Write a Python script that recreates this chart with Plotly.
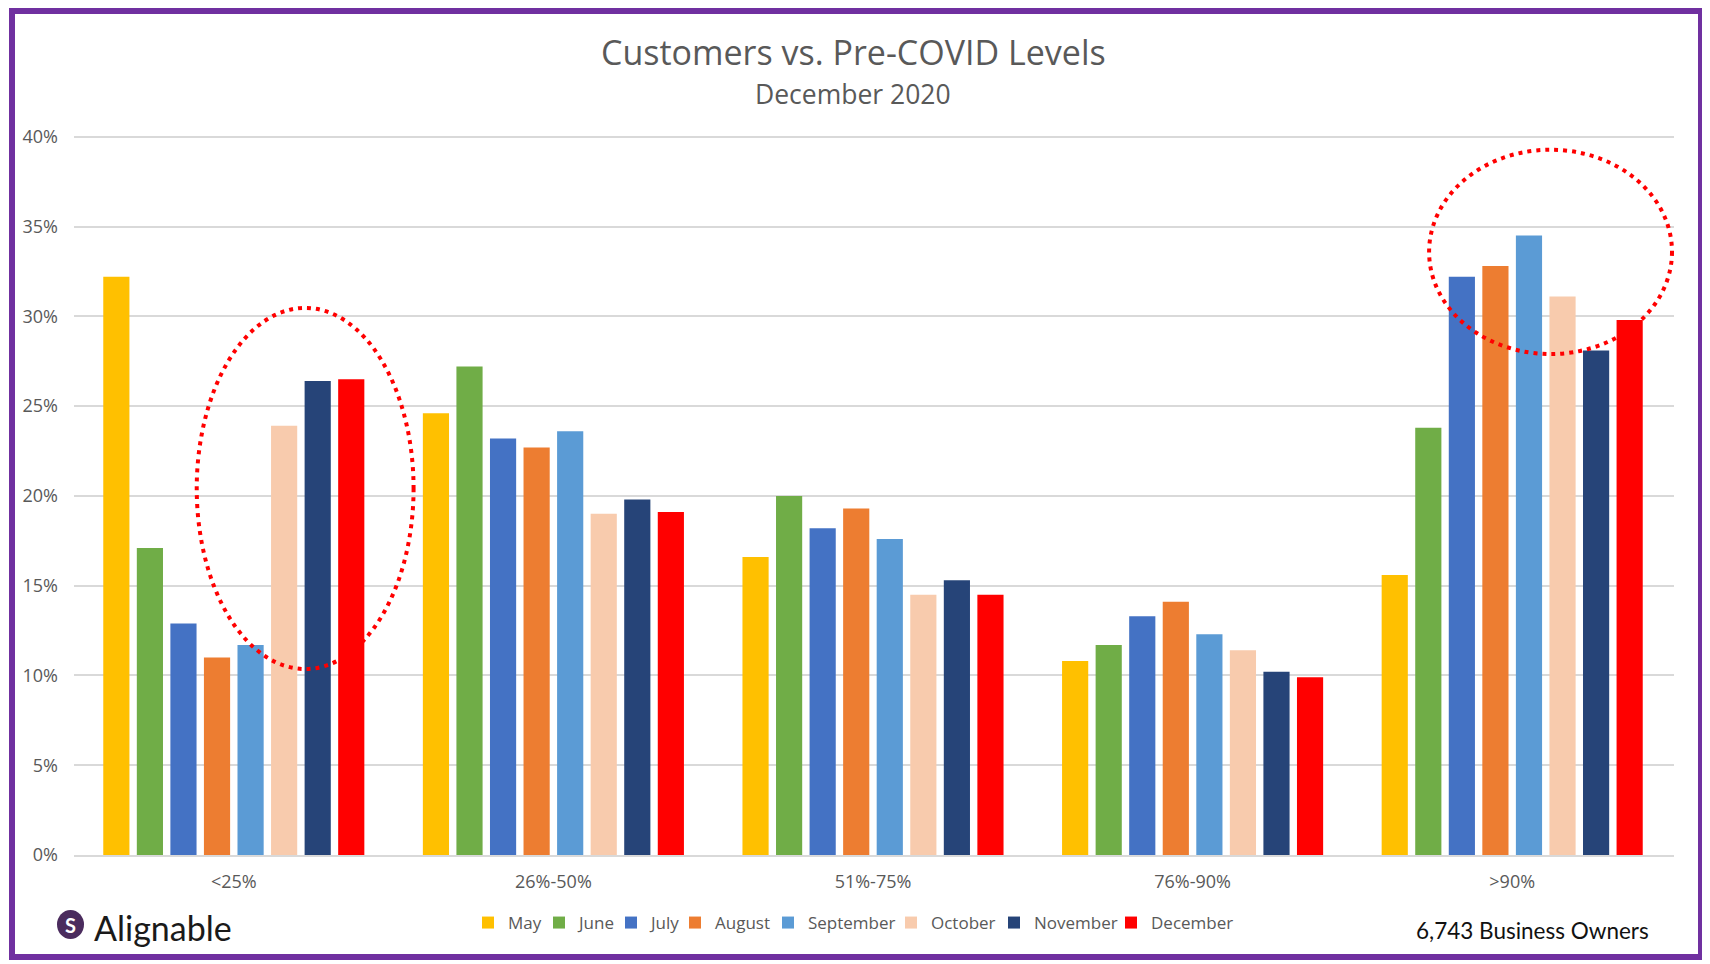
import plotly.graph_objects as go

categories = ["<25%", "26%-50%", "51%-75%", "76%-90%", ">90%"]
months = ["May", "June", "July", "August", "September", "October", "November", "December"]
colors = ["#FFC000", "#70AD47", "#4472C4", "#ED7D31", "#5B9BD5", "#F8CBAD", "#264478", "#FF0000"]

may = [32.2, 24.6, 16.6, 10.8, 15.6]
june = [17.1, 27.2, 20.0, 11.7, 23.8]
july = [12.9, 23.2, 18.2, 13.3, 32.2]
august = [11.0, 22.7, 19.3, 14.1, 32.8]
september = [11.7, 23.6, 17.6, 12.3, 34.5]
october = [23.9, 19.0, 14.5, 11.4, 31.1]
november = [26.4, 19.8, 15.3, 10.2, 28.1]
december = [26.5, 19.1, 14.5, 9.9, 29.8]
series = [may, june, july, august, september, october, november, december]

y_ticks = [0, 5, 10, 15, 20, 25, 30, 35, 40]
y_tick_labels = [f"{v}%" for v in y_ticks]

# page offset (browser body margin)
OFF = 8
W, H = 1710 - OFF, 964 - OFF
# plot area in screen pixels
X_LEFT, X_RIGHT = 74, 1674
Y_ZERO, Y_40 = 855, 137
Y_MAX = 40.1
px_per_unit = (Y_ZERO - Y_40) / 40.0
Y_TOP = Y_ZERO - Y_MAX * px_per_unit

L = X_LEFT - OFF
R = W - (X_RIGHT - OFF)
T = int(round(Y_TOP - OFF))
B = H - (Y_ZERO - OFF)
pw, ph = W - L - R, H - T - B


def px_x(p):
    return (p - OFF - L) / pw


def px_y(p):
    return (H - B - (p - OFF)) / ph


# screen x of each legend swatch (one legend box per month, laid out in a row)
legend_swatch_x = [487, 558, 630, 694, 787, 910, 1013, 1130]
legend_ids = ["legend"] + [f"legend{i}" for i in range(2, len(months) + 1)]

grey = "#595959"
fig = go.Figure()
for name, vals, col, lid in zip(months, series, colors, legend_ids):
    fig.add_trace(go.Bar(name=name, x=categories, y=vals, legend=lid,
                         marker=dict(color=col, line=dict(width=0)),
                         hovertemplate="%{x}: %{y}%<extra>" + name + "</extra>"))

legend_layouts = {}
for lid, sx in zip(legend_ids, legend_swatch_x):
    legend_layouts[lid] = dict(orientation="h", x=px_x(sx - 19), xanchor="left", y=px_y(923),
                               yanchor="middle", font=dict(family="Open Sans", size=17, color=grey),
                               itemwidth=30, bgcolor="rgba(0,0,0,0)", borderwidth=0)

fig.update_layout(
    width=W, height=H,
    margin=dict(l=L, r=R, t=T, b=B),
    paper_bgcolor="white", plot_bgcolor="white",
    barmode="group", bargap=0.16, bargroupgap=0.22,
    font=dict(family="Open Sans", color=grey, size=16),
    showlegend=True,
    xaxis=dict(showgrid=False, showline=True, linecolor="#D9D9D9", linewidth=1.5, ticks="",
               ticklabelstandoff=10,
               tickfont=dict(family="Open Sans", size=18, color=grey), fixedrange=True),
    yaxis=dict(range=[0, Y_MAX], tickvals=y_ticks, ticktext=y_tick_labels, showgrid=True,
               gridcolor="#D9D9D9", gridwidth=1.5, zeroline=False, showline=False, ticks="",
               ticklabelstandoff=15, tickfont=dict(family="Open Sans", size=18, color=grey),
               fixedrange=True),
    **legend_layouts,
)

# Title and subtitle
fig.add_annotation(text="Customers vs. Pre-COVID Levels", xref="paper", yref="paper",
                   x=px_x(853), y=px_y(52), showarrow=False, xanchor="center", yanchor="middle",
                   font=dict(family="Open Sans", size=34, color=grey))
fig.add_annotation(text="December 2020", xref="paper", yref="paper",
                   x=px_x(853), y=px_y(94), showarrow=False, xanchor="center", yanchor="middle",
                   font=dict(family="Open Sans", size=26.5, color=grey))

# Footer texts
fig.add_annotation(text="6,743 Business Owners", xref="paper", yref="paper",
                   x=px_x(1651), y=px_y(930), showarrow=False, xanchor="right", yanchor="middle",
                   font=dict(family="Lato", size=22.5, color="#111111"))
fig.add_annotation(text="Alignable", xref="paper", yref="paper",
                   x=px_x(92), y=px_y(927), showarrow=False, xanchor="left", yanchor="middle",
                   font=dict(family="Lato", size=34, color="#1a1a1a"))
# logo icon
fig.add_shape(type="circle", xref="paper", yref="paper",
              x0=px_x(57), x1=px_x(84), y0=px_y(939), y1=px_y(910),
              fillcolor="#4B2C5E", line=dict(width=0))
fig.add_annotation(text="<b>S</b>", xref="paper", yref="paper",
                   x=px_x(70.5), y=px_y(924.5), showarrow=False, xanchor="center", yanchor="middle",
                   font=dict(family="Lato", size=20, color="white"))

# Highlight ellipses
fig.add_shape(type="circle", xref="x", yref="y", x0=-0.116, x1=0.5625, y0=10.36, y1=30.47,
              line=dict(color="#FF0000", width=4, dash="4px,5px"))
fig.add_shape(type="circle", xref="x", yref="y", x0=3.74, x1=4.5, y0=27.9, y1=39.28,
              line=dict(color="#FF0000", width=4, dash="4px,5px"))

# Purple frame
fig.add_shape(type="rect", xref="paper", yref="paper",
              x0=px_x(12), x1=px_x(1701), y0=px_y(957), y1=px_y(11),
              line=dict(color="#7030A0", width=6), fillcolor="rgba(0,0,0,0)")

fig.write_html("out.html")
